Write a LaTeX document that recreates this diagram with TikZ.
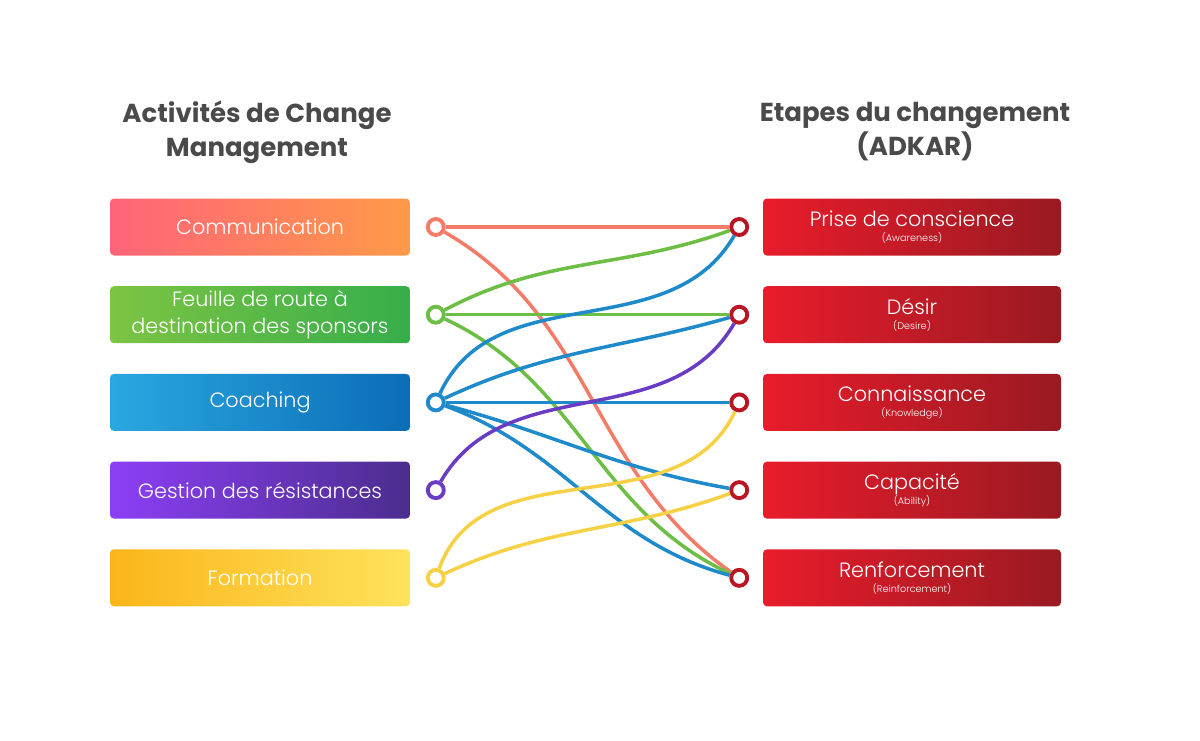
\documentclass[tikz,border=0pt]{standalone}
\usepackage{fontspec}
\setmainfont{Poppins}
\newfontfamily\thinfont{Poppins}[UprightFont=* Light]
\usepackage{tikz}
\usetikzlibrary{positioning}

\definecolor{commA}{HTML}{FF6479}
\definecolor{commB}{HTML}{FF9A48}
\definecolor{feuilleA}{HTML}{7DC443}
\definecolor{feuilleB}{HTML}{36AE4A}
\definecolor{coachA}{HTML}{2AA7E1}
\definecolor{coachB}{HTML}{0B6DB6}
\definecolor{gestionA}{HTML}{8C3FF6}
\definecolor{gestionB}{HTML}{4B2D8D}
\definecolor{formA}{HTML}{FBB51A}
\definecolor{formB}{HTML}{FDE35C}
\definecolor{stageA}{HTML}{E91C2B}
\definecolor{stageB}{HTML}{991A22}
\definecolor{titlegray}{HTML}{4A4A4A}
\definecolor{wireComm}{HTML}{F27C68}
\definecolor{wireFeuille}{HTML}{6DBE45}
\definecolor{wireCoach}{HTML}{1E8ACA}
\definecolor{wireGestion}{HTML}{6A3CC4}
\definecolor{wireForm}{HTML}{F6D145}
\definecolor{ringRed}{HTML}{BA1522}

\def\subnote#1{{\fontsize{5.5}{6}\selectfont #1}}

\begin{document}
\begin{tikzpicture}[
    activity/.style={
        rectangle, rounded corners=0.08cm,
        left color=#1A, right color=#1B, draw=none,
        minimum width=6cm, minimum height=1.14cm,
        align=center, text=white,
        font=\thinfont\fontsize{11.8}{15.5}\selectfont,
        inner sep=2pt
    },
    stage/.style={
        rectangle, rounded corners=0.08cm,
        left color=stageA, right color=stageB, draw=none,
        minimum width=5.96cm, minimum height=1.14cm,
        align=center, text=white,
        font=\thinfont\fontsize{11.8}{13.5}\selectfont,
        inner sep=2pt
    },
    heading/.style={
        align=center, text=titlegray,
        font=\bfseries\fontsize{14.8}{19.4}\selectfont
    },
    port/.style={circle, draw=#1, line width=2.2pt, fill=white, minimum size=0.32cm, inner sep=0pt},
    wire/.style={line width=2pt, draw=#1}
]

\useasboundingbox (0,0) rectangle (24,-14.8);

\def\xAct{5.2}
\def\xStage{18.24}
\def\yTop{-4.54}

\node[heading] (headL) at (5.14,-2.64) {Activités de Change\\Management};
\node[heading] (headR) at (18.3,-2.64) {Etapes du changement\\(ADKAR)};

\node[activity=comm] (comm) at (\xAct,\yTop) {Communication};
\node[activity=feuille, below=0.6cm of comm] (feuille) {Feuille de route à\\destination des sponsors};
\node[activity=coach, below=0.6cm of feuille] (coach) {Coaching};
\node[activity=gestion, below=0.6cm of coach] (gestion) {Gestion des résistances};
\node[activity=form, below=0.6cm of gestion] (form) {Formation};

\node[stage] (prise) at (\xStage,\yTop) {Prise de conscience\\[-5pt]\subnote{(Awareness)}};
\node[stage, below=0.6cm of prise] (desir) {Désir\\[-5pt]\subnote{(Desire)}};
\node[stage, below=0.6cm of desir] (conn) {Connaissance\\[-5pt]\subnote{(Knowledge)}};
\node[stage, below=0.6cm of conn] (cap) {Capacité\\[-5pt]\subnote{(Ability)}};
\node[stage, below=0.6cm of cap] (renf) {Renforcement\\[-5pt]\subnote{(Reinforcement)}};

\node[port=wireComm, right=0.31cm of comm] (pComm) {};
\node[port=wireFeuille, right=0.31cm of feuille] (pFeuille) {};
\node[port=wireCoach, right=0.31cm of coach] (pCoach) {};
\node[port=wireGestion, right=0.31cm of gestion] (pGest) {};
\node[port=wireForm, right=0.31cm of form] (pForm) {};

\node[port=ringRed, left=0.27cm of prise] (pPrise) {};
\node[port=ringRed, left=0.27cm of desir] (pDesir) {};
\node[port=ringRed, left=0.27cm of conn] (pConn) {};
\node[port=ringRed, left=0.27cm of cap] (pCap) {};
\node[port=ringRed, left=0.27cm of renf] (pRenf) {};

\draw[wire=wireComm] (pComm) -- (pPrise);
\draw[wire=wireComm] (pComm) to[out=-30, in=145] (pRenf);
\draw[wire=wireFeuille] (pFeuille) to[out=28, in=200] (pPrise);
\draw[wire=wireFeuille] (pFeuille) -- (pDesir);
\draw[wire=wireFeuille] (pFeuille) to[out=-25, in=155] (pRenf);
\draw[wire=wireCoach] (pCoach) to[out=65, in=240] (pPrise);
\draw[wire=wireCoach] (pCoach) to[out=25, in=196] (pDesir);
\draw[wire=wireCoach] (pCoach) -- (pConn);
\draw[wire=wireCoach] (pCoach) to[out=-15, in=170] (pCap);
\draw[wire=wireCoach] (pCoach) to[out=-20, in=165] (pRenf);
\draw[wire=wireGestion] (pGest) to[out=60, in=240] (pDesir);
\draw[wire=wireForm] (pForm) to[out=70, in=245] (pConn);
\draw[wire=wireForm] (pForm) to[out=25, in=200] (pCap);

\end{tikzpicture}
\end{document}
